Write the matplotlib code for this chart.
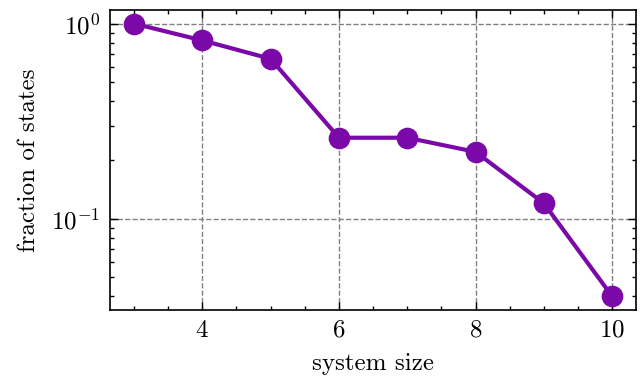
import matplotlib
matplotlib.use("Agg")
from matplotlib import pyplot as plt
from matplotlib.ticker import MultipleLocator

# data
system_size = [3, 4, 5, 6, 7, 8, 9, 10]
fraction = [1.0, 0.82, 0.66, 0.26, 0.26, 0.22, 0.12, 0.04]

# science-like style
plt.rcParams['font.family'] = 'serif'
plt.rcParams['font.serif'] = ['cmr10']
plt.rcParams['mathtext.fontset'] = 'cm'
plt.rcParams['axes.formatter.use_mathtext'] = True
plt.rcParams['font.size'] = 9
plt.rcParams['axes.linewidth'] = 0.6
plt.rcParams['xtick.direction'] = 'in'
plt.rcParams['ytick.direction'] = 'in'
plt.rcParams['xtick.top'] = True
plt.rcParams['ytick.right'] = True
plt.rcParams['xtick.major.size'] = 3
plt.rcParams['ytick.major.size'] = 3
plt.rcParams['xtick.minor.size'] = 1.5
plt.rcParams['ytick.minor.size'] = 1.5
plt.rcParams['xtick.major.width'] = 0.5
plt.rcParams['ytick.major.width'] = 0.5
plt.rcParams['xtick.minor.width'] = 0.5
plt.rcParams['ytick.minor.width'] = 0.5
plt.rcParams['xtick.minor.visible'] = True
plt.rcParams['ytick.minor.visible'] = True

fig = plt.figure(figsize=(3.22, 1.885), dpi=200)
ax = fig.add_axes([0.171, 0.178, 0.8166, 0.7955])

ax.plot(system_size, fraction, '-o', color='#7b08a8', linewidth=1.5, markersize=6.8)
ax.set_yscale('log')
ax.xaxis.set_major_locator(MultipleLocator(2))
ax.xaxis.set_minor_locator(MultipleLocator(0.5))

ax.grid(True, which='major', linestyle='--', color='0.5', linewidth=0.5)

ax.set_xlabel('system size')
ax.set_ylabel('fraction of states', labelpad=4)

fig.savefig('out.png', dpi=200)
